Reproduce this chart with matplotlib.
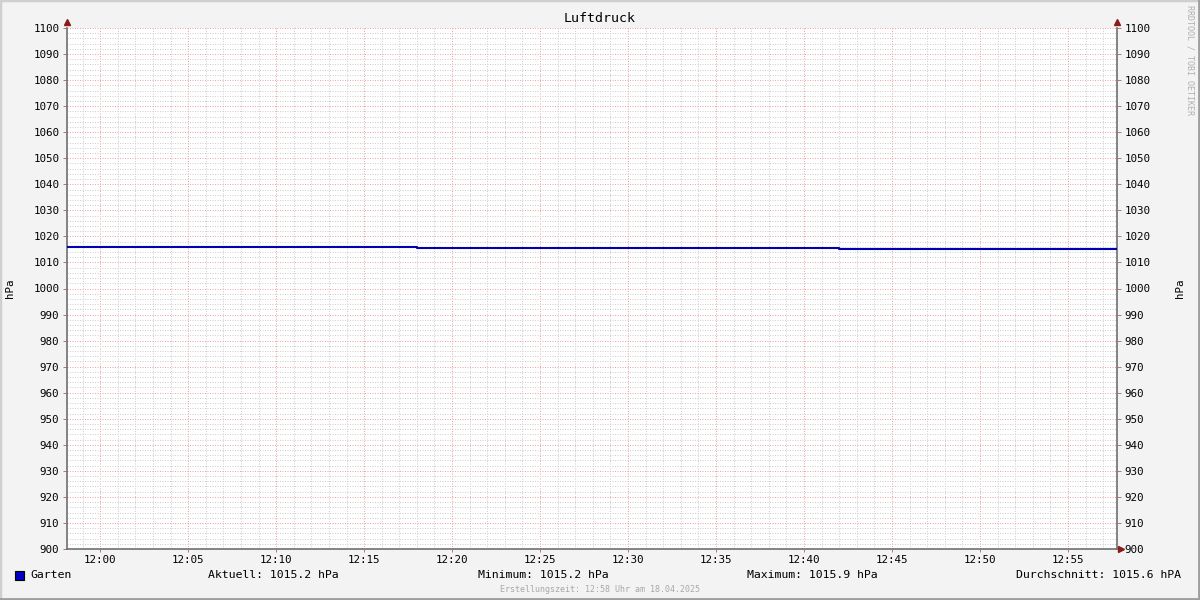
import matplotlib
matplotlib.use("Agg")
import matplotlib.pyplot as plt
import matplotlib.dates as mdates
import pandas as pd
from matplotlib.patches import Rectangle
from matplotlib.lines import Line2D

# ---- data ----
times = ["2025-04-18 11:58:07", "2025-04-18 12:18:00", "2025-04-18 12:42:00", "2025-04-18 12:57:47"]
values = [1015.9, 1015.6, 1015.2, 1015.2]
series_name = "Garten"
title = "Luftdruck"
unit_label = "hPa"
y_min, y_max = 900, 1100
stats = ["Aktuell: 1015.2 hPa", "Minimum: 1015.2 hPa", "Maximum: 1015.9 hPa", "Durchschnitt: 1015.6 hPA"]
footer = "Erstellungszeit: 12:58 Uhr am 18.04.2025"
watermark = "RRDTOOL / TOBI OETIKER"

t = pd.to_datetime(times)

W, H = 1200, 600
fig = plt.figure(figsize=(12, 6), dpi=100)
fig.patch.set_facecolor("#F3F3F3")
mono = "DejaVu Sans Mono"

# border
fig.add_artist(Rectangle((0, 0), 1, 1, transform=fig.transFigure, fill=False,
                         edgecolor="#CFCFCF", lw=2.5))
fig.add_artist(Line2D([1 - 1/W, 1 - 1/W], [0, 1], transform=fig.transFigure, color="#9E9E9E", lw=2))
fig.add_artist(Line2D([0, 1], [1/H, 1/H], transform=fig.transFigure, color="#9E9E9E", lw=2))

L, R, T, B = 67, 1117, 28, 549
ax = fig.add_axes([L / W, 1 - B / H, (R - L) / W, (B - T) / H])
ax.set_facecolor("white")

ax.plot(t, values, drawstyle="steps-post", color="#0000B0", lw=1.5, zorder=5)

ax.set_ylim(y_min, y_max)
ax.set_xlim(t[0], t[-1])

ax.yaxis.set_major_locator(plt.MultipleLocator(10))
ax.yaxis.set_minor_locator(plt.MultipleLocator(2))
ax.xaxis.set_major_locator(mdates.MinuteLocator(byminute=range(0, 60, 5)))
ax.xaxis.set_minor_locator(mdates.MinuteLocator())
ax.xaxis.set_major_formatter(mdates.DateFormatter("%H:%M"))

ax.grid(which="minor", color="#CFCFCF", lw=0.72, linestyle=(0, (1, 1.5)))
ax.grid(which="major", color="#EFA4A4", lw=0.72, linestyle=(0, (1, 1.5)))
ax.set_axisbelow(True)

ax.spines["top"].set_visible(False)
for s in ["left", "right", "bottom"]:
    ax.spines[s].set_color("#707070")
    ax.spines[s].set_linewidth(1.2)

ax.tick_params(axis="both", which="major", labelsize=7.8, length=3, width=0.7,
               color="#C07070", direction="out")
ax.tick_params(axis="both", which="minor", length=0)
ax.tick_params(axis="y", which="major", left=True, right=True, labelleft=True,
               labelright=True, pad=2.5)
ax.tick_params(axis="x", which="major", pad=2.5, length=2)
for tick in ax.yaxis.get_major_ticks():
    tick.label1.set_family(mono)
    tick.label2.set_family(mono)
for tick in ax.xaxis.get_major_ticks():
    tick.label1.set_family(mono)

# arrows
arr_c = "#8B1A1A"
ax.plot([0], [1.012], marker="^", color=arr_c, ms=4, transform=ax.transAxes, clip_on=False)
ax.plot([1], [1.012], marker="^", color=arr_c, ms=4, transform=ax.transAxes, clip_on=False)
ax.plot([1.0035], [0], marker=">", color=arr_c, ms=4, transform=ax.transAxes, clip_on=False)

# axis unit labels
fig.text(10 / W, 1 - 288 / H, unit_label, rotation=90, ha="center", va="center",
         family=mono, fontsize=7.8)
fig.text(1180 / W, 1 - 288 / H, unit_label, rotation=90, ha="center", va="center",
         family=mono, fontsize=7.8)

# title
fig.text(600 / W, 1 - 19 / H, title, ha="center", va="center", family=mono, fontsize=9.5)

# watermark
fig.text(1190 / W, 1 - 5 / H, watermark, rotation=-90, ha="center", va="top",
         family=mono, fontsize=6, color="#B0B0B0")

# legend
fig.add_artist(Rectangle((15 / W, 1 - 580 / H), 9 / W, 9 / H, transform=fig.transFigure,
                         facecolor="#0000C0", edgecolor="black", lw=0.8))
fig.text(30 / W, 1 - 575 / H, series_name, ha="left", va="center", family=mono, fontsize=8.25)
stat_x = [208, 478, 747, 1016]
for x, s in zip(stat_x, stats):
    fig.text(x / W, 1 - 575 / H, s, ha="left", va="center", family=mono, fontsize=8.25)

fig.text(600 / W, 1 - 589 / H, footer, ha="center", va="center", family=mono,
         fontsize=6, color="#A8A8A8")

fig.savefig("out.png", dpi=100, facecolor=fig.get_facecolor())
